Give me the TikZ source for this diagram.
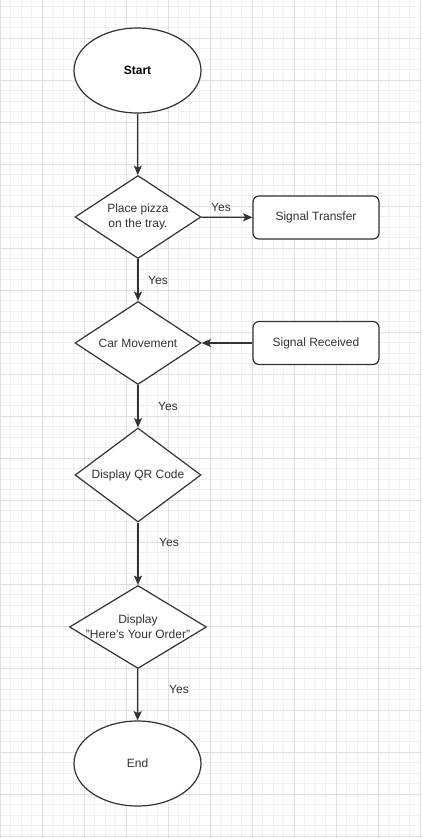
\documentclass[tikz,border=0pt]{standalone}
\usepackage{fontspec}
\setmainfont{Liberation Sans}
\usetikzlibrary{shapes.geometric,arrows.meta}
\begin{document}
\begin{tikzpicture}[x=0.75pt,y=-0.75pt,
  every node/.style={font=\fontsize{9}{11}\selectfont, text=black!80},
  shp/.style={draw=black!80, line width=0.9pt, fill=white, inner sep=0pt, align=center},
  term/.style={shp, ellipse, minimum width=95.25pt, minimum height=63.75pt},
  deci/.style={shp, diamond, minimum width=94.5pt, minimum height=62.25pt},
  boxnode/.style={shp, rectangle, rounded corners=4.5pt, minimum width=94.5pt, minimum height=32.25pt},
  conn/.style={draw=black!80, line width=0.9pt, -{Stealth[length=7pt,width=6pt,inset=1.5pt]}},
  lbl/.style={inner sep=0pt},
  intext/.style={inner sep=0pt, align=center},
  minorgrid/.style={draw=black!6, line width=0.5pt},
  majorgrid/.style={draw=black!12, line width=0.6pt}]
\fill[white] (0,0) rectangle (422,838);
\useasboundingbox (0,0) rectangle (422,838);
% grid
\foreach \i in {0,...,40} \draw[minorgrid] ({\i*10.5},0) -- ({\i*10.5},838);
\foreach \j in {0,...,79} \draw[minorgrid] (0,{6.5+\j*10.5}) -- (422,{6.5+\j*10.5});
\foreach \i in {0,...,10} \draw[majorgrid] ({\i*42},0) -- ({\i*42},838);
\foreach \j in {0,...,19} \draw[majorgrid] (0,{38+\j*42}) -- (422,{38+\j*42});
% nodes
\node[term, text=black, font=\fontsize{9}{11}\selectfont\bfseries] (start) at (137.5,70.5) {Start};
\node[deci] (place) at (138,217) {};
\node[intext] (placetxt) at (place) {Place pizza\\on the tray.};
\node[boxnode] (transfer) at (316,217.5) {Signal Transfer};
\node[deci] (car) at (138,343) {};
\node[intext] (cartxt) at (car) {Car Movement};
\node[boxnode] (received) at (316,343) {Signal Received};
\node[deci, minimum height=70.5pt] (qr) at (138,475) {};
\node[intext] (qrtxt) at (qr) {Display QR Code};
\node[deci, minimum width=102.75pt] (order) at (138,627) {};
\node[intext] (ordertxt) at (order) {Display\\"Here's Your Order"};
\node[term] (end) at (137.5,763.5) {End};
% connectors
\draw[conn] (start) -- (place);
\draw[conn] (place) -- (transfer);
\draw[conn] (place) -- (car);
\draw[conn] (received) -- (car);
\draw[conn] (car) -- (qr);
\draw[conn] (qr) -- (order);
\draw[conn] (order) -- (end);
% labels
\node[lbl] (y1) at (221,207) {Yes};
\node[lbl] (y2) at (158,280) {Yes};
\node[lbl] (y3) at (168,406) {Yes};
\node[lbl] (y4) at (169,542) {Yes};
\node[lbl] (y5) at (179,689) {Yes};
\end{tikzpicture}
\end{document}
